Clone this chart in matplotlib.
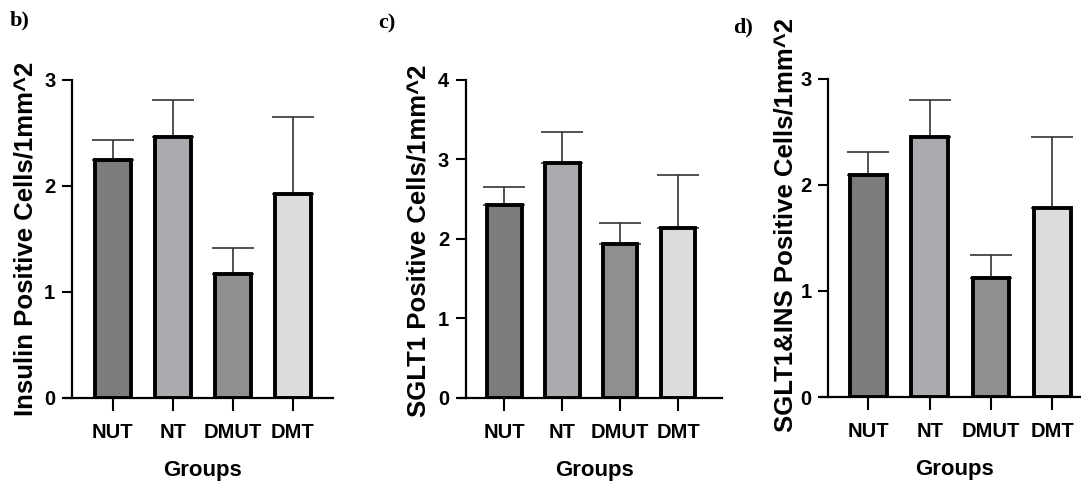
import matplotlib.pyplot as plt

groups = ["NUT", "NT", "DMUT", "DMT"]
bar_colors = ["#7c7c7c", "#ababaf", "#8f8f8f", "#dcdcdc"]

insulin_mean = [2.24, 2.46, 1.17, 1.92]
insulin_err = [0.19, 0.35, 0.24, 0.73]

sglt1_mean = [2.43, 2.96, 1.94, 2.14]
sglt1_err = [0.22, 0.38, 0.26, 0.67]

both_mean = [2.09, 2.45, 1.12, 1.78]
both_err = [0.22, 0.35, 0.22, 0.67]

# tag, ylabel, means, errors, ymax, axes rect, xlim, tag pos, ylabel coords
panels = [
    ("b)", "Insulin Positive Cells/1mm^2", insulin_mean, insulin_err, 3,
     [0.0666, 0.1743, 0.2415, 0.66], (-0.68, 3.67), (0.009, 0.979),
     (-0.134, 0.5)),
    ("c)", "SGLT1 Positive Cells/1mm^2", sglt1_mean, sglt1_err, 4,
     [0.431, 0.1743, 0.237, 0.66], (-0.66, 3.76), (0.350, 0.973),
     (-0.14, 0.494)),
    ("d)", "SGLT1&INS Positive Cells/1mm^2", both_mean, both_err, 3,
     [0.766, 0.1763, 0.234, 0.66], (-0.66, 3.47), (0.678, 0.963),
     (-0.119, 0.54)),
]

plt.rcParams["font.family"] = ["Liberation Sans", "DejaVu Sans"]
plt.rcParams["font.weight"] = "bold"

fig = plt.figure(figsize=(10.81, 4.82), dpi=100)

for tag, ylabel, mean, err, ymax, rect, xl, tag_pos, ylab_xy in panels:
    ax = fig.add_axes(rect)
    x = list(range(len(groups)))
    ax.bar(x, mean, width=0.6, color=bar_colors, edgecolor="black",
           linewidth=2.8, zorder=2)
    ax.errorbar(x, mean, yerr=[[0] * len(err), err], fmt="none",
                ecolor="#333333", elinewidth=1.2, capsize=15, capthick=1.2,
                zorder=1)
    ax.set_xlim(*xl)
    ax.set_ylim(0, ymax)
    ax.set_yticks(range(ymax + 1))
    ax.set_xticks(x)
    ax.set_xticklabels(groups)
    for s in ["top", "right"]:
        ax.spines[s].set_visible(False)
    for s in ["left", "bottom"]:
        ax.spines[s].set_linewidth(1.6)
    ax.spines["bottom"].set_bounds(xl[0] - 0.12, xl[1])
    ax.tick_params(axis="both", width=1.5, labelsize=14.5)
    ax.tick_params(axis="y", length=7, pad=5)
    ax.tick_params(axis="x", length=9, pad=9)
    ax.set_ylabel(ylabel, fontsize=18.5, fontweight="bold")
    ax.yaxis.set_label_coords(*ylab_xy)
    ax.set_xlabel("Groups", fontsize=16, fontweight="bold", labelpad=13)
    fig.text(tag_pos[0], tag_pos[1], tag, fontsize=16, fontweight="bold",
             family="Liberation Serif", va="top")

fig.savefig("out.png", dpi=100)
